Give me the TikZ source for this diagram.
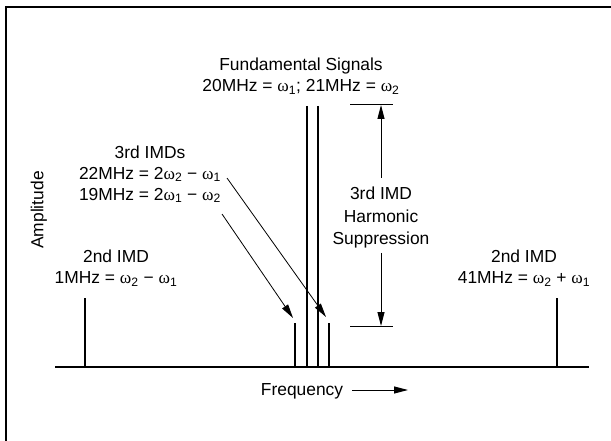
\documentclass[tikz,border=0pt]{standalone}
\usepackage{fontspec}
\setmainfont{Liberation Sans}
\newfontfamily\omfont{Liberation Serif}
\newcommand{\wsub}[1]{{\omfont ω}\textsubscript{#1}}
\usetikzlibrary{arrows.meta}
\begin{document}
\begin{tikzpicture}[x=1bp, y=-1bp, >={Triangle[length=14bp,width=7bp]},
  every node/.style={inner sep=0pt, align=center, font=\fontsize{17.4bp}{21bp}\selectfont},
  spike/.style={line width=2.2bp},
  pointer/.style={->, line width=0.8bp}]
  \useasboundingbox (0,0) rectangle (611,441);
  % frame, cut off by the page at the right and bottom
  \draw[line width=2.8bp] (6,460) -- (6,7) -- (630,7);
  % axis and spectral lines
  \draw[line width=1.3bp] (55,367) -- (589,367);
  \coordinate (low2) at (85,298);
  \coordinate (imd19) at (295,323);
  \coordinate (fund1) at (307,106);
  \coordinate (fund2) at (318,106);
  \coordinate (imd22) at (329,323);
  \coordinate (high2) at (557,298);
  \foreach \s in {low2,imd19,fund1,fund2,imd22,high2}
    \draw[spike] (\s) -- (\s |- 0,367);
  % labels
  \node (fund) at (301,76) {Fundamental Signals\\20MHz = \wsub{1}; 21MHz = \wsub{2}};
  \node (third) at (150,174) {3rd IMDs\\22MHz = 2\wsub{2} − \wsub{1}\\19MHz = 2\wsub{1} − \wsub{2}};
  \node (lowlbl) at (116,268) {2nd IMD\\1MHz = \wsub{2} − \wsub{1}};
  \node (highlbl) at (524,268) {2nd IMD\\41MHz = \wsub{2} + \wsub{1}};
  \node[font=\fontsize{17.4bp}{22.5bp}\selectfont] (supp) at (381,218) {3rd IMD\\Harmonic\\Suppression};
  \node[rotate=90] (amp) at (39,210) {Amplitude};
  \node (freq) at (302,391) {Frequency};
  % pointers to the 3rd order products
  \coordinate (from22) at (227,178);
  \coordinate (to22) at (326,317);
  \coordinate (from19) at (222,214);
  \coordinate (to19) at (293,318);
  \draw[pointer] (from22) -- (to22);
  \draw[pointer] (from19) -- (to19);
  % suppression span
  \coordinate (bartop) at (381,105);
  \coordinate (barbot) at (381,326);
  \draw[line width=1bp] ([xshift=-31bp]bartop) -- ([xshift=12bp]bartop);
  \draw[line width=1bp] ([xshift=-31bp]barbot) -- ([xshift=12bp]barbot);
  \coordinate (supptop) at (381,178);
  \coordinate (suppbot) at (381,253);
  \draw[->, line width=1bp] (supptop) -- (bartop);
  \draw[->, line width=1bp] (suppbot) -- (barbot);
  % frequency arrow
  \coordinate (freqtip) at (408,390);
  \draw[->, line width=1bp] ([xshift=9bp]freq.east |- freqtip) -- (freqtip);
\end{tikzpicture}
\end{document}
